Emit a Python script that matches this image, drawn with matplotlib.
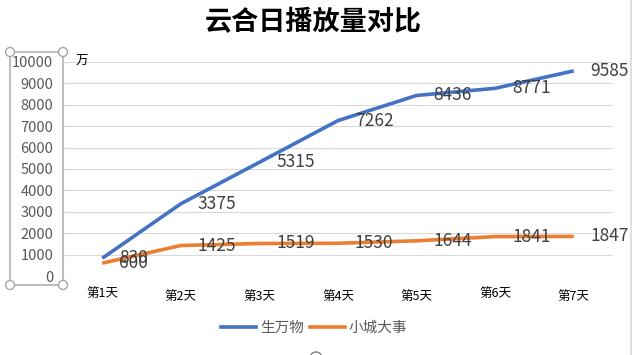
import matplotlib
matplotlib.use("Agg")
import matplotlib.pyplot as plt
from matplotlib.patches import Rectangle, Circle
from matplotlib.lines import Line2D
import matplotlib.transforms as mtransforms

plt.rcParams['font.family'] = ['Noto Sans CJK SC', 'DejaVu Sans']

categories = ["第1天", "第2天", "第3天", "第4天", "第5天", "第6天", "第7天"]
series_a_name = "生万物"
series_a = [830, 3375, 5315, 7262, 8436, 8771, 9585]
series_b_name = "小城大事"
series_b = [600, 1425, 1519, 1530, 1644, 1841, 1847]
yticks = list(range(0, 10001, 1000))

W, H = 633, 355
fig = plt.figure(figsize=(W / 100, H / 100), dpi=100)
fig.patch.set_facecolor("white")

def fx(px):
    return px / W

def fy(py):
    return 1 - py / H

ax = fig.add_axes([fx(63), fy(276), fx(613) - fx(63), fy(62) - fy(276)])
x = list(range(len(categories)))
blue = "#4472C4"
orange = "#ED7D31"
ax.plot(x, series_a, color=blue, lw=2.6, solid_capstyle="butt", zorder=3)
ax.plot(x, series_b, color=orange, lw=2.6, solid_capstyle="butt", zorder=3)

for xi, v in zip(x, series_a):
    ax.annotate(str(v), (xi, v), xytext=(17, 0), textcoords="offset pixels",
                ha="left", va="center", fontsize=12.5, color="#404040", zorder=4)
for xi, v in zip(x, series_b):
    ax.annotate(str(v), (xi, v), xytext=(17, 0), textcoords="offset pixels",
                ha="left", va="center", fontsize=12.5, color="#404040", zorder=4)

ax.set_xlim(-0.5, len(categories) - 0.5)
ax.set_ylim(0, 10000)
ax.set_yticks(yticks)
ax.set_yticklabels([str(t) for t in yticks], fontsize=10.5, color="#595959")
ax.set_xticks(x)
ax.set_xticklabels(categories, fontsize=9, color="#000000")
ax.tick_params(axis="both", length=0)
ax.tick_params(axis="y", pad=7)
ax.tick_params(axis="x", pad=10)
label_dy = [3, 0, 0, 0, 0, 3, 0]
for lab, d in zip(ax.get_xticklabels(), label_dy):
    lab.set_transform(lab.get_transform() + mtransforms.ScaledTranslation(0, d / 100, fig.dpi_scale_trans))
ax.grid(axis="y", color="#D9D9D9", lw=0.8)
ax.set_axisbelow(True)
for s in ax.spines.values():
    s.set_visible(False)

fig.text(fx(313), fy(22), "云合日播放量对比", ha="center", va="center",
         fontsize=19.5, color="#000000", fontweight="bold")
fig.text(fx(82), fy(61), "万", ha="center", va="center", fontsize=9, color="#000000")

# legend
handles = [Line2D([], [], color=blue, lw=2.6), Line2D([], [], color=orange, lw=2.6)]
leg = fig.legend(handles, [series_a_name, series_b_name], loc="center",
                 bbox_to_anchor=(fx(314), fy(328)), ncol=2, frameon=False,
                 fontsize=10.5, handlelength=2.4, handletextpad=0.3, columnspacing=0.4)
for t in leg.get_texts():
    t.set_color("#595959")

# selection box around y axis
gray = "#BFBFBF"
fig.add_artist(Rectangle((fx(10), fy(285)), fx(63) - fx(10), fy(52) - fy(285),
                         transform=fig.transFigure, fill=False, edgecolor=gray, lw=1.5))
for cx, cy in [(10, 52), (63, 52), (10, 285), (63, 285)]:
    fig.add_artist(Circle((cx, H - cy), 4.5, transform=None, facecolor="white",
                          edgecolor="#A6A6A6", lw=1.0, zorder=10))
fig.add_artist(Circle((316, H - 358), 6, transform=None, facecolor="white",
                      edgecolor="#7F7F7F", lw=1.0, zorder=10))
fig.add_artist(Line2D([fx(631), fx(631)], [0, 1], transform=fig.transFigure, color="#D9D9D9", lw=1.2))

fig.savefig("out.png", dpi=100)
